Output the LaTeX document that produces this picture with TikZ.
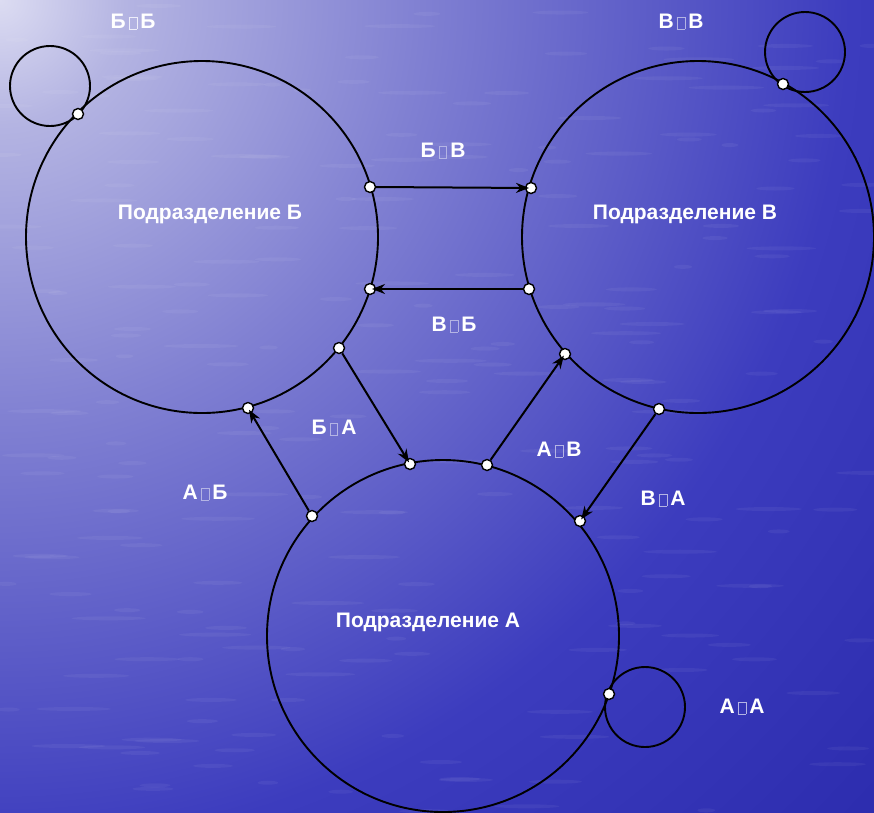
\documentclass[tikz,border=0pt]{standalone}
\usepackage{fontspec}
\setmainfont{Liberation Sans}
\usetikzlibrary{arrows.meta}
\definecolor{c0}{HTML}{DCDCF2}
\definecolor{c1}{HTML}{B4B4E2}
\definecolor{c2}{HTML}{8080D2}
\definecolor{c3}{HTML}{3C3CBE}
\definecolor{c4}{HTML}{2A2AAC}
\definecolor{boxc}{HTML}{B4B4E4}
\definecolor{boxl}{HTML}{EEEEFA}
\pgfdeclareradialshading{bgsh}{\pgfpoint{0bp}{0bp}}{color(0bp)=(c0); color(2.6bp)=(c1); color(8.8bp)=(c2); color(17.7bp)=(c3); color(26bp)=(c4); color(50bp)=(c4)}
\newcommand\nbx[1][boxc]{\kern3pt{\color{#1}\fboxsep=0pt\fboxrule=0.8pt\fbox{\rule{0pt}{11pt}\hspace{7pt}}}\kern3pt}
\begin{document}
\begin{tikzpicture}[x=1pt,y=-1pt,
  bigc/.style={circle,draw=black,line width=1.9pt,minimum size=352pt,inner sep=0pt},
  loopc/.style={circle,draw=black,line width=1.9pt,minimum size=80pt,inner sep=0pt},
  port/.style={circle,draw=black,fill=white,line width=1.4pt,minimum size=11pt,inner sep=0pt},
  lab/.style={text=white,font=\bfseries\fontsize{21}{25}\selectfont,inner sep=0pt},
  flow/.style={line width=2pt,-{Stealth[length=13pt,width=10pt]},shorten >=2pt}]
\useasboundingbox (0,0) rectangle (874,812);
\begin{scope}
\clip (0,0) rectangle (874,812);
\fill[c4] (0,0) rectangle (874,812);
\shade[shading=bgsh] (0,0) circle[radius=1200];
\pgfmathsetseed{7}
\foreach \i in {1,...,220}{
  \pgfmathsetmacro\xx{rnd*874}
  \pgfmathsetmacro\yy{rnd*812}
  \pgfmathsetmacro\ww{8+rnd*30}
  \fill[white,opacity=0.05] (\xx,\yy) ellipse[x radius=\ww, y radius=2];
}
\end{scope}
% big circles
\node[bigc] (B) at (202,237) {};
\node[bigc] (V) at (698,237) {};
\node[bigc] (A) at (443,636) {};
% loops
\node[loopc] (BB) at (50,86) {};
\node[loopc] (VV) at (805,52) {};
\node[loopc] (AA) at (645,707) {};
% ports
\node[port] (pBB) at (78,114) {};
\node[port] (pVV) at (783,84) {};
\node[port] (pAA) at (609,694) {};
\node[port] (bv1) at (370,187) {};
\node[port] (bv2) at (531,188) {};
\node[port] (vb1) at (529,289) {};
\node[port] (vb2) at (370,289) {};
\node[port] (ba1) at (339,348) {};
\node[port] (ba2) at (410,464) {};
\node[port] (ab1) at (312,516) {};
\node[port] (ab2) at (248,408) {};
\node[port] (av1) at (487,465) {};
\node[port] (av2) at (565,354) {};
\node[port] (va1) at (659,409) {};
\node[port] (va2) at (580,521) {};
% flows
\draw[flow] (bv1.east) -- (bv2.center);
\draw[flow] (vb1.west) -- (vb2.center);
\draw[flow] (ba1) -- (ba2.center);
\draw[flow] (ab1) -- (ab2.center);
\draw[flow] (av1) -- (av2.center);
\draw[flow] (va1) -- (va2.center);
% labels
\node[lab] (tB) at (210,214) {Подразделение Б};
\node[lab] (tV) at (685,214) {Подразделение В};
\node[lab] (tA) at (428,622) {Подразделение А};
\node[lab] (lBB) at (133,22) {Б\nbx[boxl] Б};
\node[lab] (lVV) at (681,22) {В\nbx В};
\node[lab] (lBV) at (443,151) {Б\nbx В};
\node[lab] (lVB) at (454,325) {В\nbx Б};
\node[lab] (lBA) at (334,428) {Б\nbx А};
\node[lab] (lAB) at (205,493) {А\nbx Б};
\node[lab] (lAV) at (559,450) {А\nbx В};
\node[lab] (lVA) at (663,499) {В\nbx А};
\node[lab] (lAA) at (742,707) {А\nbx А};
\end{tikzpicture}
\end{document}
